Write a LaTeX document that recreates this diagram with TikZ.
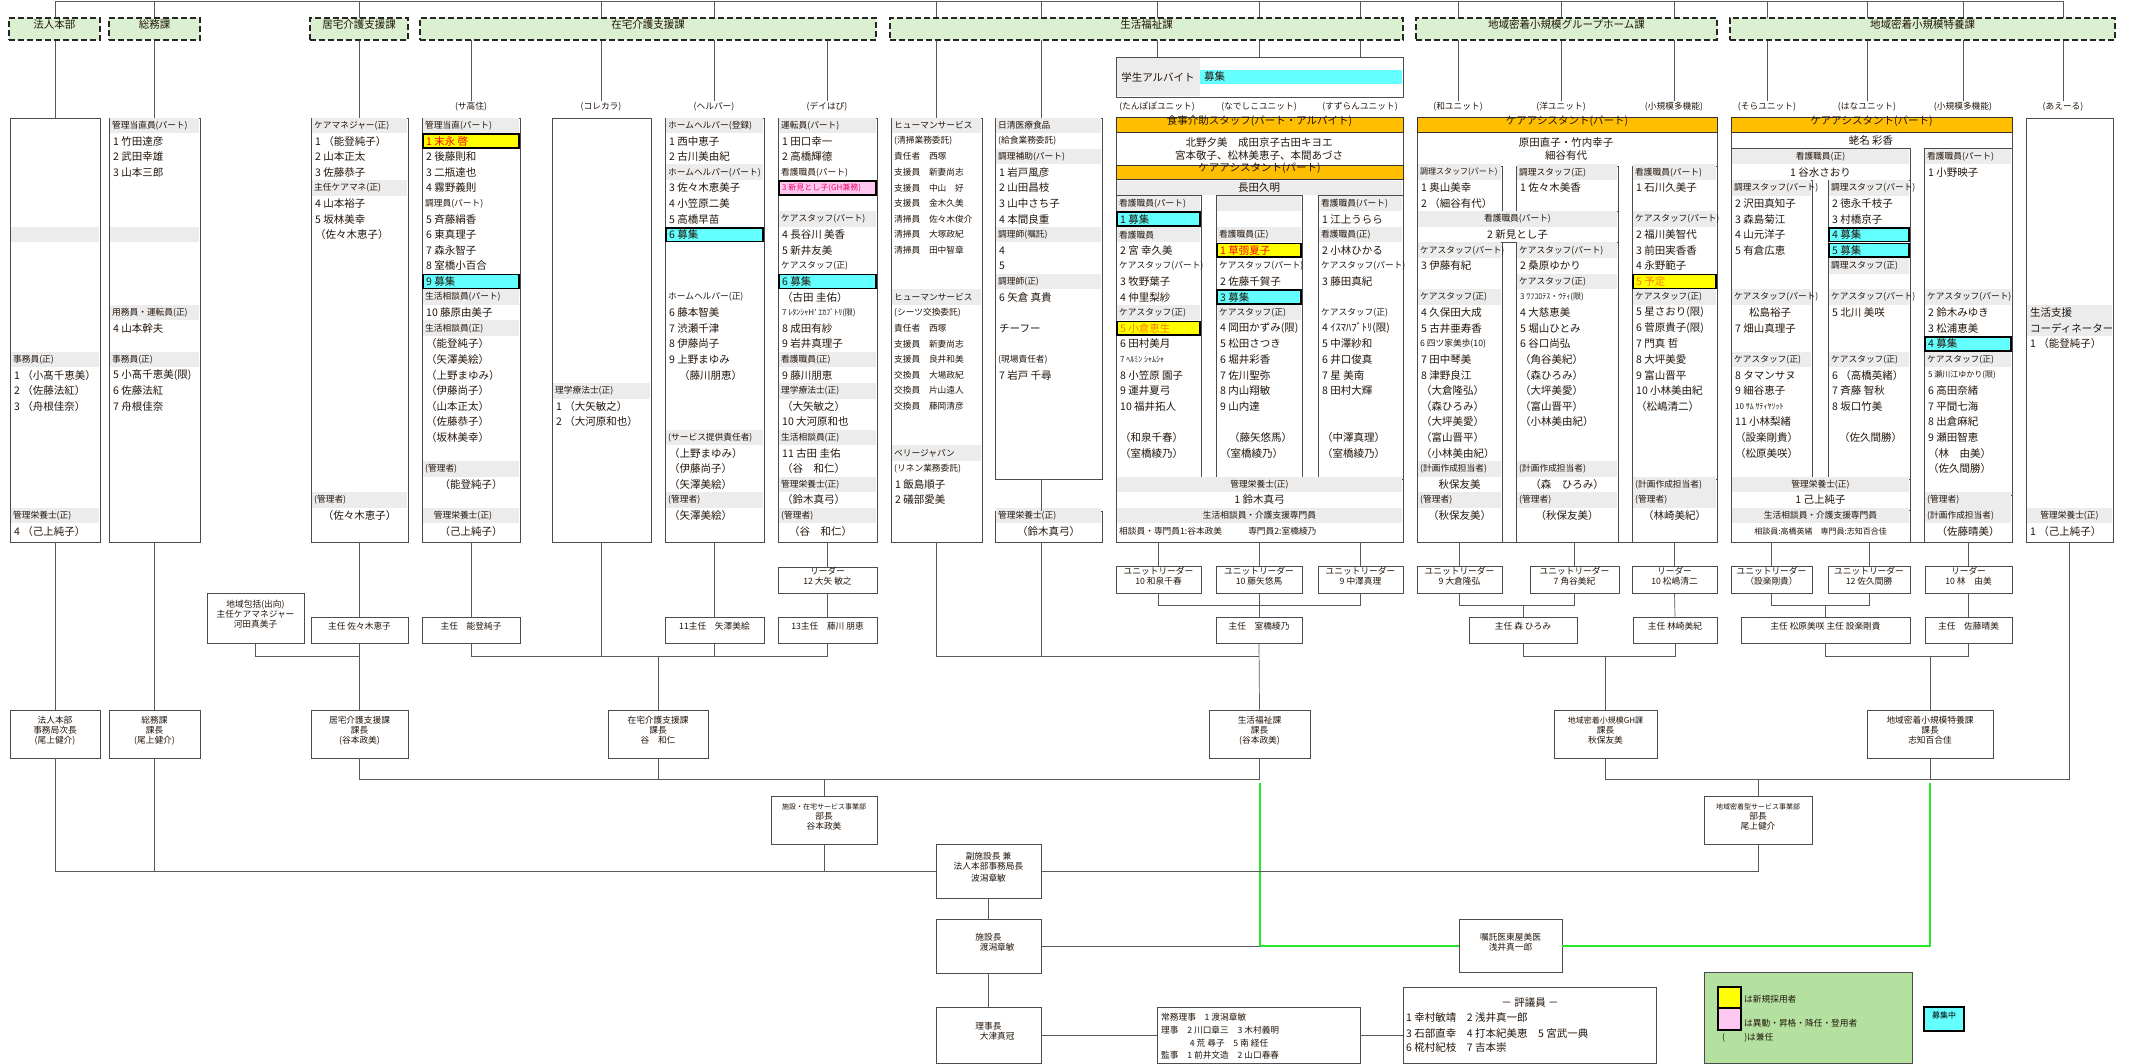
\documentclass[tikz,border=0pt]{standalone}
\usepackage{fontspec}
\setmainfont{Noto Sans CJK JP}
\usetikzlibrary{fit}
\definecolor{tx}{RGB}{35,22,12}
\definecolor{hdgreen}{RGB}{218,240,208}
\definecolor{gband}{RGB}{236,236,236}
\definecolor{orng}{RGB}{255,190,0}
\definecolor{cyn}{RGB}{100,255,255}
\definecolor{yel}{RGB}{255,255,0}
\definecolor{pnk}{RGB}{255,200,240}
\definecolor{lgd}{RGB}{180,225,160}
\definecolor{grn}{RGB}{40,230,40}
\newcommand\nmf{\fontsize{10.5}{12}\selectfont}
\newcommand\smf{\fontsize{8}{10}\selectfont}
\newcommand\hdf{\fontsize{8.7}{10}\selectfont}
\newcommand\zRT[3]{\node[anchor=west,inner sep=0pt,font=\nmf,text=tx] at ({#1+4},{125.5+15.6*#2}) {#3};}
\newcommand\zRTs[3]{\node[anchor=west,inner sep=0pt,font=\smf,text=tx] at ({#1+4},{125.5+15.6*#2}) {#3};}
\newcommand\zRTh[3]{\node[anchor=west,inner sep=0pt,font=\hdf,text=tx] at ({#1+3},{125.5+15.6*#2}) {#3};}
\newcommand\zRC[4]{\node[inner sep=0pt,font=\nmf,text=tx] at ({(#1+#2)/2},{125.5+15.6*#3}) {#4};}
\newcommand\zRCs[4]{\node[inner sep=0pt,font=\smf,text=tx] at ({(#1+#2)/2},{125.5+15.6*#3}) {#4};}
\newcommand\zRH[4]{\fill[gband] ({#1+0.7},{117.7+15.6*#3}) rectangle ({#2-0.7},{133.3+15.6*#3}); \zRTh{#1}{#3}{#4}}
\newcommand\zRHC[4]{\fill[gband] ({#1+0.7},{117.7+15.6*#3}) rectangle ({#2-0.7},{133.3+15.6*#3}); \node[inner sep=0pt,font=\hdf,text=tx] at ({(#1+#2)/2},{125.5+15.6*#3}) {#4};}
\newcommand\zRX[5]{\draw[line width=1.5pt,fill=#1] ({#2+1},{118.6+15.6*#4}) rectangle ({#3-1},{132.4+15.6*#4}); \zRT{#2}{#4}{#5}}
\tikzset{
 ln/.style={draw=black!65, line width=0.7pt},
 bx/.style={draw=black!70, line width=0.7pt, fill=white, inner sep=0pt},
 hd/.style={draw=black!85, line width=1.6pt, dash pattern=on 6pt off 3pt, fill=hdgreen, inner sep=0pt, font=\nmf, text=tx},
 lb/.style={font=\hdf, text=tx, inner sep=1pt},
 sb/.style={draw=black!70, line width=0.7pt, fill=white, inner sep=0pt, align=center, font=\hdf, text=tx},
 ob/.style={draw=black!80, line width=1pt, fill=orng, inner sep=0pt, font=\nmf, text=tx},
 gline/.style={draw=grn, line width=2pt},
}
\begin{document}
\begin{tikzpicture}[x=1pt,y=-1pt]
\useasboundingbox[fill=white] (0,0) rectangle (2140,1064);
\coordinate (topL) at (55,1);
\coordinate (topR) at (2063,1);
\coordinate (hbot) at (0,40);
\coordinate (j1) at (0,656);
\coordinate (j2) at (0,605);
\coordinate (j3) at (0,779);
\coordinate (x9) at (1041,300);
\coordinate (gA) at (1260,783);
\coordinate (gB) at (1930,783);

% ---------- column boxes ----------
\node[bx, fit={(10,118) (100,542)}] (c1) {};
\node[bx, fit={(109,118) (200,542)}] (c2) {};
\node[bx, fit={(311,118) (408,542)}] (c3) {};
\node[bx, fit={(422,118) (520,542)}] (c4) {};
\node[bx, fit={(552,118) (651,542)}] (c5) {};
\node[bx, fit={(665,118) (764,542)}] (c6) {};
\node[bx, fit={(778,118) (877,542)}] (c7) {};
\node[bx, fit={(891,118) (982,542)}] (c8) {};
\node[bx, fit={(995,118) (1102,479)}] (c9) {};
\node[bx, fit={(995,511) (1102,542)}] (c9b) {};
\node[bx, fit={(1116,118) (1403,542)}] (c10) {};
\node[bx, fit={(1417,118) (1717,542)}] (c11) {};
\node[bx, fit={(1731,118) (2012,542)}] (c12) {};
\node[bx, fit={(2026,118) (2113,542)}] (c13) {};
\node[bx, fit={(1116,57) (1403,97)}] (gk) {};

% labels
\node[lb] (lSako) at (471,107) {(サ高住)};
\node[lb] (lKore) at (601,107) {(コレカラ)};
\node[lb] (lHelp) at (714,107) {(ヘルパー)};
\node[lb] (lDay) at (827,107) {(デイはぴ)};
\node[lb] (lTan) at (1157,107) {(たんぽぽユニット)};
\node[lb] (lNade) at (1259,107) {(なでしこユニット)};
\node[lb] (lSuzu) at (1360,107) {(すずらんユニット)};
\node[lb] (lWa) at (1458,107) {(和ユニット)};
\node[lb] (lYo) at (1561,107) {(洋ユニット)};
\node[lb] (lSk1) at (1674,107) {(小規模多機能)};
\node[lb] (lSora) at (1767,107) {(そらユニット)};
\node[lb] (lHana) at (1867,107) {(はなユニット)};
\node[lb] (lSk2) at (1963,107) {(小規模多機能)};
\node[lb] (lAe) at (2063,107) {(あえーる)};

% ---------- top connectors ----------
\draw[ln] (topL) -- (topR);
\foreach \n in {c1,c2,c3,c8} {\draw[ln] (\n.north) -- (\n.north |- topL);}
\draw[ln] (x9 |- topL) -- (x9 |- c9.north);
\foreach \n in {lKore,lHelp,lWa,lYo,lSk1,lSora,lHana,lSk2,lAe} {\draw[ln] (\n.north) -- (\n.north |- topL);}
\foreach \n in {lSako,lDay} {\draw[ln] (\n.north) -- (\n.north |- hbot);}
\foreach \n in {lTan,lNade,lSuzu} {\draw[ln] (\n |- gk.north) -- (\n |- topL);}

% ---------- headers ----------
\node[hd, fit={(9,18) (100,40)}] (hA) {法人本部};
\node[hd, fit={(109,18) (200,40)}] (hB) {総務課};
\node[hd, fit={(310,18) (408,40)}] (hC) {居宅介護支援課};
\node[hd, fit={(420,18) (876,40)}] (hD) {在宅介護支援課};
\node[hd, fit={(890,18) (1403,40)}] (hE) {生活福祉課};
\node[hd, fit={(1416,18) (1717,40)}] (hF) {地域密着小規模グループホーム課};
\node[hd, fit={(1730,18) (2115,40)}] (hG) {地域密着小規模特養課};

% ---------- 学生アルバイト ----------
\fill[gband] (1116.7,57.7) rectangle (1200,96.3);
\fill[cyn] (1200,70) rectangle (1402,84);
\node[font=\nmf,text=tx,inner sep=0pt] (gkt) at (1158,77) {学生アルバイト};
\node[font=\nmf,text=tx,inner sep=0pt,anchor=west] (gkb) at (1204,77) {募集};

% ---------- column 1 法人本部 ----------
\zRH{10}{100}{7}{}
\zRH{10}{100}{15}{事務員(正)}
\zRT{10}{16}{1 （小髙千恵美）}
\zRT{10}{17}{2 （佐藤法紅）}
\zRT{10}{18}{3 （舟根佳奈）}
\zRH{10}{100}{25}{管理栄養士(正)}
\zRT{10}{26}{4 （己上純子）}

% ---------- column 2 総務課 ----------
\zRH{109}{200}{0}{管理当直員(パート)}
\zRT{109}{1}{1 竹田達彦}
\zRT{109}{2}{2 武田幸雄}
\zRT{109}{3}{3 山本三郎}
\zRH{109}{200}{7}{}
\zRH{109}{200}{12}{用務員・運転員(正)}
\zRT{109}{13}{4 山本幹夫}
\zRH{109}{200}{15}{事務員(正)}
\zRT{109}{16}{5 小髙千恵美(限)}
\zRT{109}{17}{6 佐藤法紅}
\zRT{109}{18}{7 舟根佳奈}

% ---------- column 3 居宅 ----------
\zRH{311}{408}{0}{ケアマネジャー(正)}
\zRT{311}{1}{1 （能登純子）}
\zRT{311}{2}{2 山本正太}
\zRT{311}{3}{3 佐藤恭子}
\zRH{311}{408}{4}{主任ケアマネ(正)}
\zRT{311}{5}{4 山本裕子}
\zRT{311}{6}{5 坂林美幸}
\zRT{311}{7}{（佐々木恵子）}
\zRH{311}{408}{24}{(管理者)}
\zRC{311}{408}{25}{（佐々木恵子）}

% ---------- column 4 サ高住 ----------
\zRH{422}{520}{0}{管理当直(パート)}
\zRX{yel}{422}{520}{1}{\textcolor{red}{1 末永 啓}}
\zRT{422}{2}{2 後藤則和}
\zRT{422}{3}{3 二瓶達也}
\zRT{422}{4}{4 霧野義則}
\zRTh{422}{5}{調理員(パート)}
\zRT{422}{6}{5 斉藤絹香}
\zRT{422}{7}{6 東真理子}
\zRT{422}{8}{7 森永智子}
\zRT{422}{9}{8 室橋小百合}
\zRX{cyn}{422}{520}{10}{9 募集}
\zRH{422}{520}{11}{生活相談員(パート)}
\zRT{422}{12}{10 藤原由美子}
\zRH{422}{520}{13}{生活相談員(正)}
\zRT{422}{14}{（能登純子）}
\zRT{422}{15}{（矢澤美絵）}
\zRT{422}{16}{（上野まゆみ）}
\zRT{422}{17}{（伊藤尚子）}
\zRT{422}{18}{（山本正太）}
\zRT{422}{19}{（佐藤恭子）}
\zRT{422}{20}{（坂林美幸）}
\zRH{422}{520}{22}{(管理者)}
\zRC{422}{520}{23}{（能登純子）}
\zRH{422}{520}{25}{\quad 管理栄養士(正)}
\zRC{422}{520}{26}{（己上純子）}

% ---------- column 5 コレカラ ----------
\zRH{552}{651}{17}{理学療法士(正)}
\zRT{552}{18}{1 （大矢敏之）}
\zRT{552}{19}{2 （大河原和也）}

% ---------- column 6 ヘルパー ----------
\zRH{665}{764}{0}{ホームヘルパー(登録)}
\zRT{665}{1}{1 西中恵子}
\zRT{665}{2}{2 古川美由紀}
\zRH{665}{764}{3}{ホームヘルパー(パート)}
\zRT{665}{4}{3 佐々木恵美子}
\zRT{665}{5}{4 小笠原二美}
\zRT{665}{6}{5 高橋早苗}
\zRX{cyn}{665}{764}{7}{6 募集}
\zRTh{665}{11}{ホームヘルパー(正)}
\zRT{665}{12}{6 藤本智美}
\zRT{665}{13}{7 渋瀬千津}
\zRT{665}{14}{8 伊藤尚子}
\zRT{665}{15}{9 上野まゆみ}
\zRT{675}{16}{（藤川朋恵）}
\zRH{665}{764}{20}{(サービス提供責任者)}
\zRT{665}{21}{（上野まゆみ）}
\zRT{665}{22}{（伊藤尚子）}
\zRT{665}{23}{（矢澤美絵）}
\zRH{665}{764}{24}{(管理者)}
\zRT{665}{25}{（矢澤美絵）}

% ---------- column 7 デイはぴ ----------
\zRH{778}{877}{0}{運転員(パート)}
\zRT{778}{1}{1 田口幸一}
\zRT{778}{2}{2 高橋輝德}
\zRTh{778}{3}{看護職員(パート)}
\draw[line width=1.5pt,fill=pnk] (779,{118.6+15.6*4}) rectangle (876,{132.4+15.6*4});
\zRTs{778}{4}{\textcolor{magenta!70!red}{3 新見とし子(GH兼務)}}
\zRH{778}{877}{6}{ケアスタッフ(パート)}
\zRT{778}{7}{4 長谷川 美香}
\zRT{778}{8}{5 新井友美}
\zRTh{778}{9}{ケアスタッフ(正)}
\zRX{cyn}{778}{877}{10}{6 募集}
\zRT{778}{11}{（古田 圭佑）}
\zRTs{778}{12}{7 ﾚﾀﾝｼｬH' ｴｶﾌﾞﾄﾘ(限)}
\zRT{778}{13}{8 成田有紗}
\zRT{778}{14}{9 岩井真理子}
\zRH{778}{877}{15}{看護職員(正)}
\zRT{778}{16}{9 藤川朋恵}
\zRH{778}{877}{17}{理学療法士(正)}
\zRT{778}{18}{（大矢敏之）}
\zRT{778}{19}{10 大河原和也}
\zRH{778}{877}{20}{生活相談員(正)}
\zRT{778}{21}{11 古田 圭佑}
\zRT{778}{22}{（谷　和仁）}
\zRH{778}{877}{23}{管理栄養士(正)}
\zRT{778}{24}{（鈴木真弓）}
\zRH{778}{877}{25}{(管理者)}
\zRT{785}{26}{（谷　和仁）}

% ---------- column 8 ヒューマンサービス ----------
\zRH{891}{982}{0}{ヒューマンサービス}
\zRTh{891}{1}{(清掃業務委託)}
\zRTh{891}{2}{責任者　西塚}
\zRTh{891}{3}{支援員　新妻尚志}
\zRTh{891}{4}{支援員　中山　好}
\zRTh{891}{5}{支援員　金木久美}
\zRTh{891}{6}{清掃員　佐々木俊介}
\zRTh{891}{7}{清掃員　大塚政紀}
\zRTh{891}{8}{清掃員　田中智章}
\zRH{891}{982}{11}{ヒューマンサービス}
\zRTh{891}{12}{(シーツ交換委託)}
\zRTh{891}{13}{責任者　西塚}
\zRTh{891}{14}{支援員　新妻尚志}
\zRTh{891}{15}{支援員　良井和美}
\zRTh{891}{16}{交換員　大場政紀}
\zRTh{891}{17}{交換員　片山遠人}
\zRTh{891}{18}{交換員　藤岡清彦}
\zRH{891}{982}{21}{ベリージャパン}
\zRTh{891}{22}{(リネン業務委託)}
\zRT{891}{23}{1 飯島順子}
\zRT{891}{24}{2 礒部愛美}

% ---------- column 9 日清医療食品 ----------
\zRH{995}{1102}{0}{日清医療食品}
\zRTh{995}{1}{(給食業務委託)}
\zRH{995}{1102}{2}{調理補助(パート)}
\zRT{995}{3}{1 岩戸風彦}
\zRT{995}{4}{2 山田昌枝}
\zRT{995}{5}{3 山中さち子}
\zRT{995}{6}{4 本間良重}
\zRH{995}{1102}{7}{調理師(嘱託)}
\zRT{995}{8}{4}
\zRT{995}{9}{5}
\zRH{995}{1102}{10}{調理師(正)}
\zRT{995}{11}{6 矢倉 真貴}
\zRT{995}{13}{チーフー}
\zRTh{995}{15}{(現場責任者)}
\zRT{995}{16}{7 岩戸 千尋}
\zRH{995}{1102}{25}{管理栄養士(正)}
\zRC{995}{1102}{26}{（鈴木真弓）}

% ---------- 生活福祉課 block ----------
\node[ob, fit={(1116,118) (1403,133)}] (o1) {食事介助スタッフ(パート・アルバイト)};
\node[font=\nmf,text=tx,inner sep=0pt] (o1a) at (1259,143) {北野夕美　成田京子古田キヨエ};
\node[font=\nmf,text=tx,inner sep=0pt] (o1b) at (1259,156) {宮本敬子、松林美恵子、本間あづさ};
\node[ob, fit={(1116,166) (1403,180)}] (o2) {ケアアシスタント(パート)};
\fill[gband] (1116.7,181) rectangle (1402.3,195);
\node[font=\nmf,text=tx,inner sep=0pt] (o2a) at (1259,188) {長田久明};
\draw[bx] (1116,195) rectangle (1201,479);
\draw[bx] (1216,195) rectangle (1302,479);
\draw[bx] (1318,195) rectangle (1403,479);
\draw[bx] (1116,479) rectangle (1403,542);
% たんぽぽ
\zRH{1116}{1201}{5}{看護職員(パート)}
\zRX{cyn}{1116}{1201}{6}{1 募集}
\zRH{1116}{1201}{7}{看護職員}
\zRT{1116}{8}{2 宮 幸久美}
\zRTh{1116}{9}{ケアスタッフ(パート)}
\zRT{1116}{10}{3 牧野葉子}
\zRT{1116}{11}{4 仲里梨紗}
\zRH{1116}{1201}{12}{ケアスタッフ(正)}
\zRX{yel}{1116}{1201}{13}{\textcolor{orange}{5 小倉恵生}}
\zRT{1116}{14}{6 田村美月}
\zRTs{1116}{15}{7 ﾍﾙﾐﾝ ｼｬﾑｼｬ}
\zRT{1116}{16}{8 小笠原 園子}
\zRT{1116}{17}{9 運井夏弓}
\zRT{1116}{18}{10 福井拓人}
\zRT{1116}{20}{（和泉千春）}
\zRT{1116}{21}{（室橋綾乃）}
% なでしこ
\zRH{1216}{1302}{5}{}
\zRH{1216}{1302}{7}{看護職員(正)}
\zRX{yel}{1216}{1302}{8}{\textcolor{red}{1 草彅夏子}}
\zRTh{1216}{9}{ケアスタッフ(パート)}
\zRT{1216}{10}{2 佐藤千賀子}
\zRX{cyn}{1216}{1302}{11}{3 募集}
\zRH{1216}{1302}{12}{ケアスタッフ(正)}
\zRT{1216}{13}{4 岡田かずみ(限)}
\zRT{1216}{14}{5 松田さつき}
\zRT{1216}{15}{6 堀井彩香}
\zRT{1216}{16}{7 佐川聖弥}
\zRT{1216}{17}{8 内山翔敏}
\zRT{1216}{18}{9 山内達}
\zRT{1225}{20}{（藤矢悠馬）}
\zRT{1216}{21}{（室橋綾乃）}
% すずらん
\zRH{1318}{1403}{5}{看護職員(パート)}
\zRT{1318}{6}{1 江上うらら}
\zRH{1318}{1403}{7}{看護職員(正)}
\zRT{1318}{8}{2 小林ひかる}
\zRTh{1318}{9}{ケアスタッフ(パート)}
\zRT{1318}{10}{3 藤田真紀}
\zRTh{1318}{12}{ケアスタッフ(正)}
\zRT{1318}{13}{4 ｲｽﾏﾊﾌﾞﾄﾘ(限)}
\zRT{1318}{14}{5 中澤紗和}
\zRT{1318}{15}{6 井口俊真}
\zRT{1318}{16}{7 星 美南}
\zRT{1318}{17}{8 田村大輝}
\zRT{1318}{20}{（中澤真理）}
\zRT{1318}{21}{（室橋綾乃）}
% bottom
\zRHC{1116}{1403}{23}{管理栄養士(正)}
\zRC{1116}{1403}{24}{1 鈴木真弓}
\zRHC{1116}{1403}{25}{生活相談員・介護支援専門員}
\zRTh{1116}{26}{相談員・専門員1:谷本政美　　　専門員2:室橋綾乃}

% ---------- グループホーム block ----------
\node[ob, fit={(1417,118) (1717,133)}] (o3) {ケアアシスタント(パート)};
\node[font=\nmf,text=tx,inner sep=0pt] (o3a) at (1566,143) {原田直子・竹内幸子};
\node[font=\nmf,text=tx,inner sep=0pt] (o3b) at (1566,156) {細谷有代};
\draw[bx] (1417,166) rectangle (1502,211.3);
\draw[bx] (1516,166) rectangle (1618,211.3);
\draw[bx] (1417,211.3) rectangle (1618,242.5);
\draw[bx] (1417,242.5) rectangle (1502,542);
\draw[bx] (1516,242.5) rectangle (1618,542);
\draw[bx] (1632,166) rectangle (1717,542);
\draw[ln] (1632,479) -- (1717,479);
% 和
\zRH{1417}{1502}{3}{{\smf 調理スタッフ(パート)}}
\zRT{1417}{4}{1 奥山美幸}
\zRT{1417}{5}{2 （細谷有代）}
\zRHC{1417}{1618}{6}{看護職員(パート)}
\zRC{1417}{1618}{7}{2 新見とし子}
\zRH{1417}{1502}{8}{ケアスタッフ(パート)}
\zRT{1417}{9}{3 伊藤有紀}
\zRH{1417}{1502}{11}{ケアスタッフ(正)}
\zRT{1417}{12}{4 久保田大成}
\zRT{1417}{13}{5 古井亜寿香}
\zRTh{1417}{14}{6 四ツ家美歩(10)}
\zRT{1417}{15}{7 田中琴美}
\zRT{1417}{16}{8 津野良江}
\zRT{1417}{17}{（大倉隆弘）}
\zRT{1417}{18}{（森ひろみ）}
\zRT{1417}{19}{（大坪美愛）}
\zRT{1417}{20}{（富山晋平）}
\zRT{1417}{21}{（小林美由紀）}
\zRH{1417}{1502}{22}{(計画作成担当者)}
\zRC{1417}{1502}{23}{秋保友美}
\zRH{1417}{1502}{24}{(管理者)}
\zRC{1417}{1502}{25}{（秋保友美）}
% 洋
\zRH{1516}{1618}{3}{調理スタッフ(正)}
\zRT{1516}{4}{1 佐々木美香}
\zRH{1516}{1618}{8}{ケアスタッフ(パート)}
\zRT{1516}{9}{2 桑原ゆかり}
\zRH{1516}{1618}{10}{ケアスタッフ(正)}
\zRTs{1516}{11}{3 ﾜﾌｺﾛﾃｽ・ｳﾃｨ(限)}
\zRT{1516}{12}{4 大慈恵美}
\zRT{1516}{13}{5 堀山ひとみ}
\zRT{1516}{14}{6 谷口尚弘}
\zRT{1516}{15}{（角谷美紀）}
\zRT{1516}{16}{（森ひろみ）}
\zRT{1516}{17}{（大坪美愛）}
\zRT{1516}{18}{（富山晋平）}
\zRT{1516}{19}{（小林美由紀）}
\zRH{1516}{1618}{22}{(計画作成担当者)}
\zRC{1516}{1618}{23}{（森　ひろみ）}
\zRH{1516}{1618}{24}{(管理者)}
\zRC{1516}{1618}{25}{（秋保友美）}
% 小規模多機能 (GH)
\zRH{1632}{1717}{3}{看護職員(パート)}
\zRT{1632}{4}{1 石川久美子}
\zRH{1632}{1717}{6}{ケアスタッフ(パート)}
\zRT{1632}{7}{2 福川美智代}
\zRT{1632}{8}{3 前田実香香}
\zRT{1632}{9}{4 永野範子}
\zRX{yel}{1632}{1717}{10}{\textcolor{orange}{5 予定}}
\zRH{1632}{1717}{11}{ケアスタッフ(正)}
\zRT{1632}{12}{5 星さおり(限)}
\zRT{1632}{13}{6 菅原貴子(限)}
\zRT{1632}{14}{7 門真 哲}
\zRT{1632}{15}{8 大坪美愛}
\zRT{1632}{16}{9 富山晋平}
\zRT{1632}{17}{10 小林美由紀}
\zRT{1632}{18}{（松嶋清二）}
\zRH{1632}{1717}{23}{(計画作成担当者)}
\zRH{1632}{1717}{24}{(管理者)}
\zRC{1632}{1717}{25}{（林崎美紀）}

% ---------- 特養 block ----------
\node[ob, fit={(1731,118) (2012,133)}] (o4) {ケアアシスタント(パート)};
\node[font=\nmf,text=tx,inner sep=0pt] (o4a) at (1871,141) {蛯名 彩香};
\draw[bx] (1731,148) rectangle (1910,542);
\draw[bx] (1731,180) rectangle (1812,479);
\draw[bx] (1828,180) rectangle (1910,479);
\draw[ln] (1731,510) -- (1910,510);
\draw[bx] (1924,148) rectangle (2012,542);
\draw[ln] (1924,495) -- (2012,495);
\zRHC{1731}{1910}{2}{看護職員(正)}
\zRC{1731}{1910}{3}{1 谷水さおり}
% そら
\zRH{1731}{1812}{4}{調理スタッフ(パート)}
\zRT{1731}{5}{2 沢田真知子}
\zRT{1731}{6}{3 森島菊江}
\zRT{1731}{7}{4 山元洋子}
\zRT{1731}{8}{5 有倉広恵}
\zRH{1731}{1812}{11}{ケアスタッフ(パート)}
\zRT{1745}{12}{松島裕子}
\zRT{1731}{13}{7 畑山真理子}
\zRH{1731}{1812}{15}{ケアスタッフ(正)}
\zRT{1731}{16}{8 タマンサヌ}
\zRT{1731}{17}{9 細谷恵子}
\zRTs{1731}{18}{10 ｻﾑ ｻﾃｨﾔｿｯﾄ}
\zRT{1731}{19}{11 小林梨緒}
\zRT{1731}{20}{（設楽剛貴）}
\zRT{1731}{21}{（松原美咲）}
% はな
\zRH{1828}{1910}{4}{調理スタッフ(パート)}
\zRT{1828}{5}{2 徳永千枝子}
\zRT{1828}{6}{3 村橋京子}
\zRX{cyn}{1828}{1910}{7}{4 募集}
\zRX{cyn}{1828}{1910}{8}{5 募集}
\zRH{1828}{1910}{9}{調理スタッフ(正)}
\zRH{1828}{1910}{11}{ケアスタッフ(パート)}
\zRT{1828}{12}{5 北川 美咲}
\zRH{1828}{1910}{15}{ケアスタッフ(正)}
\zRT{1828}{16}{6 （高橋英緒）}
\zRT{1828}{17}{7 斉藤 智秋}
\zRT{1828}{18}{8 坂口竹美}
\zRT{1835}{20}{（佐久間勝）}
% bottom
\zRHC{1731}{1910}{23}{管理栄養士(正)}
\zRC{1731}{1910}{24}{1 己上純子}
\zRHC{1731}{1910}{25}{生活相談員・介護支援専門員}
\zRCs{1731}{1910}{26}{相談員:高橋英緒　専門員:志知百合佳}
% 小規模多機能 (特養)
\zRH{1924}{2012}{2}{看護職員(パート)}
\zRT{1924}{3}{1 小野映子}
\zRH{1924}{2012}{11}{ケアスタッフ(パート)}
\zRT{1924}{12}{2 鈴木みゆき}
\zRT{1924}{13}{3 松浦恵美}
\zRX{cyn}{1924}{2012}{14}{4 募集}
\zRH{1924}{2012}{15}{ケアスタッフ(正)}
\zRTs{1924}{16}{5 瀬川江ゆかり(限)}
\zRT{1924}{17}{6 高田奈緒}
\zRT{1924}{18}{7 平間七海}
\zRT{1924}{19}{8 出倉麻紀}
\zRT{1924}{20}{9 瀬田智恵}
\zRT{1924}{21}{（林　由美）}
\zRT{1924}{22}{（佐久間勝）}
\zRH{1924}{2012}{24}{(管理者)}
\zRH{1924}{2012}{25}{(計画作成担当者)}
\zRC{1924}{2012}{26}{（佐藤晴美）}

% ---------- あえーる ----------
\zRH{2026}{2113}{12}{}
\zRH{2026}{2113}{13}{}
\zRT{2026}{12}{生活支援}
\zRT{2026}{13}{コーディネーター}
\zRT{2026}{14}{1 （能登純子）}
\zRHC{2026}{2113}{25}{管理栄養士(正)}
\zRT{2026}{26}{1 （己上純子）}

% ---------- leader boxes ----------
\node[sb, fit={(778,567) (877,593)}] (r7) {リーダー\\12 大矢 敏之};
\node[sb, fit={(1116,566) (1201,593)}] (u1) {ユニットリーダー\\10 和泉千春};
\node[sb, fit={(1216,566) (1302,593)}] (u2) {ユニットリーダー\\10 藤矢悠馬};
\node[sb, fit={(1318,566) (1403,593)}] (u3) {ユニットリーダー\\9 中澤真理};
\node[sb, fit={(1417,566) (1502,593)}] (g1) {ユニットリーダー\\9 大倉隆弘};
\node[sb, fit={(1530,566) (1619,593)}] (g2) {ユニットリーダー\\7 角谷美紀};
\node[sb, fit={(1632,566) (1717,593)}] (g3) {リーダー\\10 松嶋清二};
\node[sb, fit={(1731,566) (1812,593)}] (t1) {ユニットリーダー\\（設楽剛貴）};
\node[sb, fit={(1828,566) (1910,593)}] (t2) {ユニットリーダー\\12 佐久間勝};
\node[sb, fit={(1925,566) (2012,593)}] (t3) {リーダー\\10 林　由美};

% ---------- 主任 boxes ----------
\node[sb, fit={(207,593) (304,643)}] (hk) {地域包括(出向)\\主任ケアマネジャー\\河田真美子};
\node[sb, fit={(311,617) (408,643)}] (s3) {主任 佐々木恵子};
\node[sb, fit={(422,617) (520,643)}] (s4) {主任　能登純子};
\node[sb, fit={(665,617) (764,643)}] (s6) {11主任　矢澤美絵};
\node[sb, fit={(778,617) (877,643)}] (s7) {13主任　藤川 朋恵};
\node[sb, fit={(1216,617) (1302,643)}] (s10) {主任　室橋綾乃};
\node[sb, fit={(1469,617) (1577,643)}] (s11) {主任 森 ひろみ};
\node[sb, fit={(1633,617) (1717,643)}] (s12) {主任 林崎美紀};
\node[sb, fit={(1741,617) (1910,643)}] (s13) {主任 松原美咲 主任 設楽剛貴};
\node[sb, fit={(1925,617) (2012,643)}] (s14) {主任　佐藤晴美};

% ---------- 課長 boxes ----------
\node[sb, fit={(10,710) (100,758)}] (k1) {法人本部\\事務局次長\\(尾上健介)};
\node[sb, fit={(109,710) (200,758)}] (k2) {総務課\\課長\\(尾上健介)};
\node[sb, fit={(311,710) (408,758)}] (k3) {居宅介護支援課\\課長\\(谷本政美)};
\node[sb, fit={(608,710) (708,758)}] (k4) {在宅介護支援課\\課長\\谷　和仁};
\node[sb, fit={(1209,710) (1310,758)}] (k10) {生活福祉課\\課長\\(谷本政美)};
\node[sb, fit={(1554,710) (1657,758)}] (k11) {{\smf 地域密着小規模GH課}\\課長\\秋保友美};
\node[sb, fit={(1867,710) (1993,758)}] (k12) {地域密着小規模特養課\\課長\\志知百合佳};
\node[sb, fit={(771,796) (877,844)}] (d1) {{\fontsize{7}{9}\selectfont 施設・在宅サービス事業部}\\部長\\谷本政美};
\node[sb, fit={(1704,796) (1812,844)}] (d2) {{\fontsize{7}{9}\selectfont 地域密着型サービス事業部}\\部長\\尾上健介};
\node[sb, fit={(936,844) (1041,898)}] (f1) {副施設長 兼\\法人本部事務局長\\[2pt]波潟章敏};
\node[sb, fit={(936,919) (1041,973)}] (f2) {施設長\hspace{2em}\\\hspace{2em}渡潟章敏};
\node[sb, fit={(936,1007) (1041,1063)}] (f3) {理事長\hspace{2em}\\\hspace{2em}大津真冠\\[12pt]};
\node[sb, fit={(1459,919) (1562,972)}] (q) {嘱託医東屋美医\\浅井真一郎};
\node[sb, fit={(1157,1007) (1360,1063)}] (cj) {};
\node[anchor=west,font=\hdf,text=tx,inner sep=0pt] (cj1) at (1161,1017) {常務理事　1 渡潟章敏};
\node[anchor=west,font=\hdf,text=tx,inner sep=0pt] (cj2) at (1161,1030) {理事　2 川口章三　3 木村義明};
\node[anchor=west,font=\hdf,text=tx,inner sep=0pt] (cj3) at (1161,1043) {\hspace{3.3em}4 荒 尋子　5 南 経任};
\node[anchor=west,font=\hdf,text=tx,inner sep=0pt] (cj4) at (1161,1055) {監事　1 前井文造　2 山口春春};
\node[sb, fit={(1403,987) (1656,1063)}] (hy) {};
\node[font=\nmf,text=tx,inner sep=0pt] (hy0) at (1530,1003) {－ 評議員 －};
\node[anchor=west,font=\nmf,text=tx,inner sep=0pt] (hy1) at (1406,1018) {1 幸村敏靖　2 浅井真一郎};
\node[anchor=west,font=\nmf,text=tx,inner sep=0pt] (hy2) at (1406,1033) {3 石部直幸　4 打本紀美恵　5 宮武一典};
\node[anchor=west,font=\nmf,text=tx,inner sep=0pt] (hy3) at (1406,1048) {6 椛村紀枝　7 吉本崇};

% legend
\node[draw=black!70, line width=0.8pt, fill=lgd, inner sep=0pt, fit={(1704,972) (1912,1063)}] (lg) {};
\node[draw=black, line width=1.5pt, fill=yel, inner sep=0pt, fit={(1718,987) (1741,1008)}] (ly) {};
\node[draw=black, line width=1.5pt, fill=pnk, inner sep=0pt, fit={(1718,1008) (1741,1030)}] (lp) {};
\node[anchor=west,font=\hdf,text=tx,inner sep=0pt] (lt1) at (1744,999) {は新規採用者};
\node[anchor=west,font=\hdf,text=tx,inner sep=0pt] (lt2) at (1744,1023) {は異動・昇格・降任・登用者};
\node[anchor=west,font=\hdf,text=tx,inner sep=0pt] (lt3) at (1722,1038) {(\hspace{2.2em})は兼任};
\node[draw=black, line width=1.5pt, fill=cyn, inner sep=0pt, fit={(1924,1007) (1964,1031)}, font=\smf] (bs) {募集中};

% ---------- lower connectors ----------
\draw[ln] (c1.south) -- (k1.north);
\draw[ln] (c2.south) -- (k2.north);
\draw[ln] (c3.south) -- (s3.north);
\draw[ln] (s3.south) -- (k3.north);
\draw[ln] (hk.south) |- (s3.south |- j1);
\draw[ln] (c4.south) -- (s4.north);
\draw[ln] (c5.south) -- (c5.south |- j1);
\draw[ln] (c6.south) -- (s6.north);
\draw[ln] (c7.south) -- (r7.north);
\draw[ln] (r7.south) -- (s7.north);
\draw[ln] (s4.south) |- (s7.south |- j1) -- (s7.south);
\draw[ln] (s6.south) -- (s6.south |- j1);
\draw[ln] (k4.north) -- (k4.north |- j1);
\draw[ln] (c8.south) |- (s10.south |- j1);
\draw[ln] (x9 |- c9.south) -- (x9 |- c9b.north);
\draw[ln] (x9 |- c9b.south) -- (x9 |- j1);
\draw[ln] (s10.south) -- (k10.north);
\foreach \n in {u1,u2,u3} {\draw[ln] (\n.north) -- (\n.north |- c10.south);}
\draw[ln] (u1.south) |- (u3.south |- j2) -- (u3.south);
\draw[ln] (u2.south) -- (s10.north);
\foreach \n in {g1,g2,g3} {\draw[ln] (\n.north) -- (\n.north |- c11.south);}
\draw[ln] (g1.south) |- (g2.south |- j2) -- (g2.south);
\draw[ln] (s11.north) -- (s11.north |- j2);
\draw[ln] (g3.south) -- (s12.north);
\draw[ln] (s11.south) |- (s12.south |- j1) -- (s12.south);
\draw[ln] (k11.north) -- (k11.north |- j1);
\foreach \n in {t1,t2,t3} {\draw[ln] (\n.north) -- (\n.north |- c12.south);}
\draw[ln] (t1.south) |- (t2.south |- j2) -- (t2.south);
\draw[ln] (s13.north) -- (s13.north |- j2);
\draw[ln] (t3.south) -- (s14.north);
\draw[ln] (s13.south) |- (s14.south |- j1) -- (s14.south);
\draw[ln] (k12.north) -- (k12.north |- j1);
\draw[ln] (k3.south) |- (k10.south |- j3) -- (k10.south);
\draw[ln] (k4.south) -- (k4.south |- j3);
\draw[ln] (d1.north) -- (d1.north |- j3);
\draw[ln] (k11.south) |- (c13.south |- j3) -- (c13.south);
\draw[ln] (k12.south) -- (k12.south |- j3);
\draw[ln] (d2.north) -- (d2.north |- j3);
\draw[gline] (gA) |- (q.west);
\draw[gline] (q.east) -| (gB);
\draw[ln] (k1.south) |- (f1.west);
\draw[ln] (k2.south) -- (k2.south |- f1.west);
\draw[ln] (d1.south) -- (d1.south |- f1.west);
\draw[ln] (f1.east) -| (d2.south);
\draw[ln] (f1.south) -- (f2.north);
\draw[ln] (f2.south) -- (f3.north);
\draw[ln] (f2.east) -- (f2.east -| gA);
\draw[ln] (f3.east) -- (f3.east -| cj.west);
\draw[ln] (cj.east) -- (cj.east -| hy.west);
\end{tikzpicture}
\end{document}
